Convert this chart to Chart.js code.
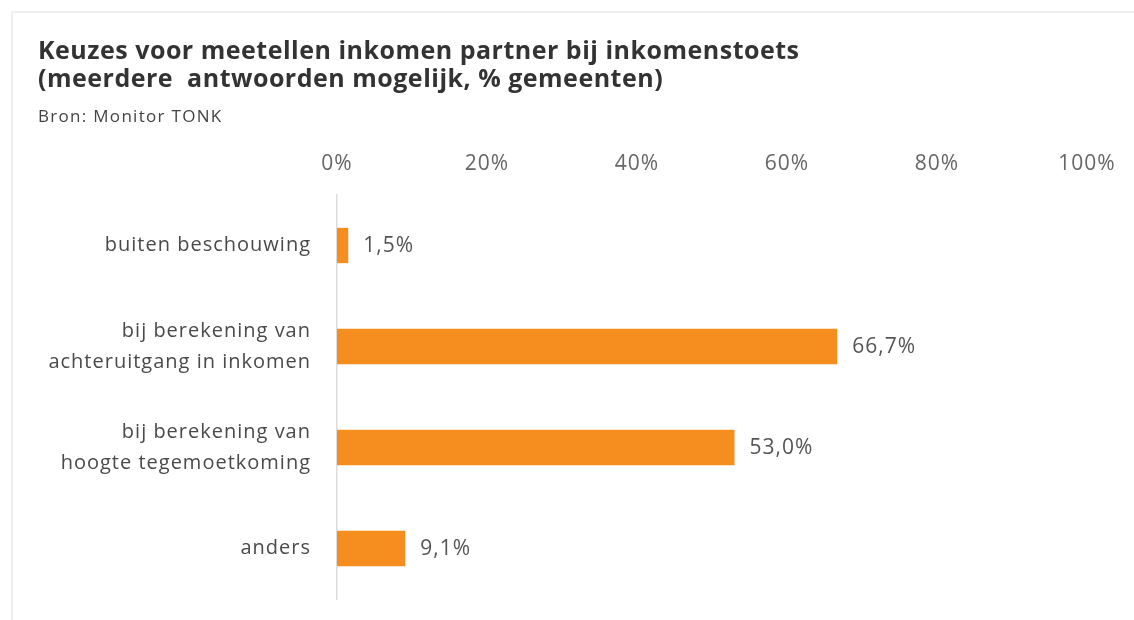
<!DOCTYPE html>
<html>
<head>
<meta charset="utf-8">
<script src="https://cdn.jsdelivr.net/npm/chart.js@4.4.1/dist/chart.umd.min.js"></script>
<style>
  html, body { margin: 0; padding: 0; background: #fff; }
  body { width: 1134px; height: 620px; position: relative; overflow: hidden; font-family: 'Open Sans', sans-serif; }
  .frame { position: absolute; left: 11px; top: 11px; right: 0; bottom: 0; border-top: 2px solid #efefef; border-left: 2px solid #efefef; }
  .title { position: absolute; left: 38px; top: 35px; font-size: 25px; line-height: 28px; font-weight: 700; color: #333; letter-spacing: 0.5px; z-index: 2; }
  .source { position: absolute; left: 38px; top: 106px; font-size: 17px; line-height: 20px; color: #444; letter-spacing: 1.3px; z-index: 2; }
  canvas { position: absolute; left: 0; top: 0; }
</style>
</head>
<body>
<div class="frame"></div>
<div class="title">Keuzes voor meetellen inkomen partner bij inkomenstoets<br>(meerdere&nbsp; antwoorden mogelijk, % gemeenten)</div>
<div class="source">Bron: Monitor TONK</div>
<canvas id="chart" width="1134" height="620"></canvas>
<script>
const categories = [
  'buiten beschouwing',
  ['bij berekening van', 'achteruitgang in inkomen'],
  ['bij berekening van', 'hoogte tegemoetkoming'],
  'anders'
];
const values = [1.5, 66.7, 53.0, 9.1];
const tickValues = [0, 20, 40, 60, 80, 100];

const barColor = '#f68e1f';
const pct = v => v.toFixed(1).replace('.', ',') + '%';

// wider letter spacing like the original typeface
const spacing = {
  id: 'spacing',
  beforeLayout(chart) { if ('letterSpacing' in chart.ctx) chart.ctx.letterSpacing = '1px'; },
  beforeDraw(chart) { if ('letterSpacing' in chart.ctx) chart.ctx.letterSpacing = '1px'; }
};

// value labels to the right of each bar
const valueLabels = {
  id: 'valueLabels',
  afterDatasetsDraw(chart) {
    const ctx = chart.ctx;
    const meta = chart.getDatasetMeta(0);
    ctx.save();
    ctx.font = '21px "Open Sans", sans-serif';
    ctx.fillStyle = '#555';
    ctx.textAlign = 'left';
    ctx.textBaseline = 'middle';
    meta.data.forEach((bar, i) => {
      ctx.fillText(pct(values[i]), bar.x + 15, bar.y + 1);
    });
    ctx.restore();
  }
};

new Chart(document.getElementById('chart'), {
  type: 'bar',
  data: {
    labels: categories,
    datasets: [{
      data: values,
      backgroundColor: barColor,
      borderWidth: 0,
      categoryPercentage: 1,
      barPercentage: 0.35
    }]
  },
  options: {
    indexAxis: 'y',
    responsive: false,
    animation: false,
    layout: { padding: { left: 0, right: 47, top: 135, bottom: 21 } },
    plugins: {
      legend: { display: false },
      tooltip: { enabled: false }
    },
    scales: {
      x: {
        position: 'top',
        min: 0,
        max: 100,
        afterFit: s => { s.height = 60; s.paddingLeft = 0; s.paddingRight = 0; },
        afterBuildTicks: s => { s.ticks = tickValues.map(v => ({ value: v })); },
        grid: { display: false, drawTicks: false },
        border: { display: false },
        ticks: {
          padding: 18,
          color: '#666',
          font: { family: 'Open Sans', size: 21 },
          callback: v => v + '%'
        }
      },
      y: {
        afterFit: s => { s.width = 337; s.paddingTop = 0; s.paddingBottom = 0; },
        grid: { display: false, drawTicks: false },
        border: { display: true, color: '#dcdcdc', width: 1.5 },
        ticks: {
          padding: 26,
          color: '#4a4a4a',
          font: { family: 'Open Sans', size: 20, lineHeight: 1.55 }
        }
      }
    }
  },
  plugins: [spacing, valueLabels]
});
</script>
</body>
</html>
